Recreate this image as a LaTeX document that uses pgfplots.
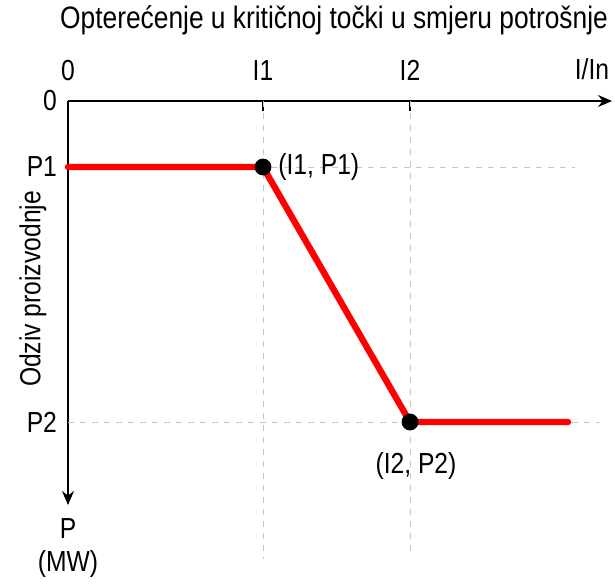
\documentclass[border=0pt]{standalone}
\usepackage{pgfplots}
\pgfplotsset{compat=1.18}
\usetikzlibrary{arrows.meta}
\usepackage{fontspec}
\setmainfont{Liberation Sans}[FakeStretch=0.85]
\begin{document}
\begin{tikzpicture}
\useasboundingbox (-34pt,50.5pt) rectangle (273.5pt,-241.5pt);
\begin{axis}[
  anchor=origin, at={(0,0)},
  x=0.5pt, y=0.5pt,
  xmin=0, xmax=544, ymin=-404, ymax=0,
  axis x line*=top, axis y line*=left,
  x axis line style={-{Stealth[length=7pt,width=6pt]}},
  y axis line style={{Stealth[length=7pt,width=6pt]}-},
  axis line style={black, line width=0.6pt},
  clip=false,
  xtick={0,195,342}, xticklabels={0,I1,I2},
  ytick={0,-66,-321}, yticklabels={0,P1,P2},
  tick align=inside, major tick length=5pt,
  xtick style={black, line width=0.6pt},
  ytick style={draw=none},
  ticklabel style={font=\fontsize{14.5}{16}\selectfont},
  xticklabel style={yshift=6.5pt},
  yticklabel style={xshift=-2pt},
]
\addplot[gray!45, dashed, line width=0.5pt] coordinates {(195,0) (195,-458)};
\addplot[gray!45, dashed, line width=0.5pt] coordinates {(342,0) (342,-455)};
\addplot[gray!45, dashed, line width=0.5pt] coordinates {(0,-66) (507,-66)};
\addplot[gray!45, dashed, line width=0.5pt] coordinates {(0,-321) (532,-321)};
\addplot[red, line width=3.2pt, line cap=round, line join=round] coordinates {(0,-66) (195,-66) (342,-321) (500,-321)};
\addplot[only marks, mark=*, mark size=4pt, black] coordinates {(195,-66) (342,-321)};
\node[anchor=west, font=\fontsize{14.5}{16}\selectfont, inner sep=0pt] at (axis cs:210,-66) {(I1, P1)};
\node[font=\fontsize{14.5}{16}\selectfont] at (axis cs:348,-365) {(I2, P2)};
\node[font=\fontsize{14.5}{16}\selectfont] at (axis cs:524,32) {I/In};
\node[font=\fontsize{15.5}{18}\selectfont] at (axis cs:266,81) {Opterećenje u kritičnoj točki u smjeru potrošnje};
\node[rotate=90, font=\fontsize{14.5}{16}\selectfont] at (axis cs:-35,-188) {Odziv proizvodnje};
\node[align=center, font=\fontsize{14.5}{16.5}\selectfont] at (axis cs:0,-447) {P\\(MW)};
\end{axis}
\end{tikzpicture}
\end{document}
